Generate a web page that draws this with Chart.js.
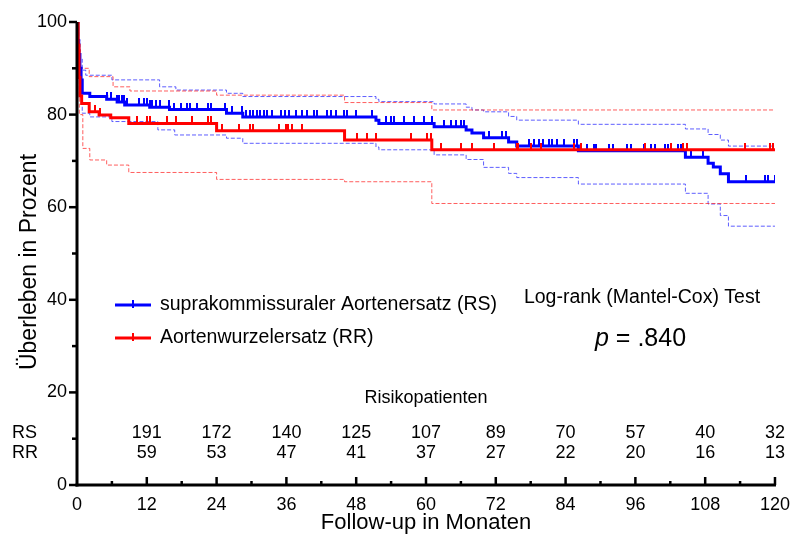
<!DOCTYPE html>
<html>
<head>
<meta charset="utf-8">
<script src="https://cdn.jsdelivr.net/npm/chart.js@4.4.1/dist/chart.umd.min.js"></script>
<style>
html,body{margin:0;padding:0;background:#fff;}
#wrap{width:799px;height:541px;position:relative;}
</style>
</head>
<body>
<div id="wrap"><canvas id="c" width="799" height="541"></canvas></div>
<script>
// ---------- DATA ----------
const xTickStep = 12;
const yTickStep = 20;

// RS (suprakommissuraler Aortenersatz) Kaplan-Meier steps
const rsTimes = [0, 0.15, 0.3, 0.5, 0.7, 0.9, 2.2, 5.1, 6.9, 8.2, 12.5, 15.9, 25.7, 28.5, 51.4, 51.9, 61.4, 66.9, 67.9, 69.9, 74.2, 75.6, 86.2, 104.6, 108.5, 109.4, 110.6, 112.0, 120];
const rsSurv  = [100, 96, 93, 90, 87.5, 84.6, 83.9, 83.3, 82.7, 82.1, 81.6, 81.1, 80.3, 79.5, 78.8, 78.1, 77.4, 76.7, 76.0, 75.0, 74.1, 73.2, 72.2, 70.8, 69.5, 68.7, 67.2, 65.5, 65.5];
// RS 95% confidence limits
const rsUpperTimes = [0, 0.2, 0.5, 0.9, 1.5, 6.0, 14.2, 17.0, 25.7, 28.5, 51.4, 51.9, 61.4, 66.9, 67.9, 69.9, 74.2, 75.6, 86.2, 104.6, 108.5, 110.6, 112.0, 120];
const rsUpper      = [100, 96, 92, 89.6, 88.5, 87.5, 86.0, 85.3, 84.6, 83.9, 83.3, 82.8, 82.3, 81.6, 81.0, 80.6, 79.6, 78.8, 77.9, 76.9, 75.7, 74.5, 73.2, 73.2];
const rsLowerTimes = [0, 0.2, 0.5, 0.9, 2.2, 6.0, 13.9, 16.8, 25.7, 28.5, 51.4, 51.9, 61.4, 66.9, 69.9, 74.2, 75.6, 86.2, 104.6, 108.5, 110.6, 112.0, 120];
const rsLower      = [100, 90, 84, 80.3, 79.5, 78.5, 76.7, 75.6, 74.9, 73.8, 73.0, 72.4, 71.3, 70.3, 68.6, 67.3, 66.4, 65.0, 63.0, 60.7, 58.2, 55.9, 55.9];
// RS censored times
const rsCensored = [5.1, 5.8, 6.9, 7.2, 7.7, 8.1, 8.6, 10.6, 11.5, 12.0, 12.5, 12.9, 13.5, 14.2, 15.8, 16.6, 17.8, 18.9, 19.4, 20.7, 22.5, 23.1, 25.4, 26.7, 28.3, 29.1, 29.7, 30.2, 30.9, 31.4, 32.1, 32.7, 33.6, 35.1, 35.7, 36.5, 37.7, 38.7, 39.6, 40.8, 41.3, 43.0, 43.7, 44.6, 45.9, 46.5, 48.0, 50.7, 53.1, 54.0, 54.5, 56.2, 57.9, 59.7, 61.0, 63.1, 64.3, 65.1, 66.0, 66.5, 70.8, 73.0, 73.7, 77.7, 78.5, 79.4, 80.2, 81.1, 81.6, 82.5, 83.7, 85.4, 85.9, 87.6, 88.8, 89.3, 91.4, 92.2, 94.5, 95.3, 97.4, 98.6, 99.4, 101.1, 101.6, 102.2, 103.4, 103.9, 105.5, 107.7, 115.1, 118.3, 118.8, 120];

// RR (Aortenwurzelersatz) Kaplan-Meier steps
const rrTimes = [0, 0.2, 0.35, 0.5, 0.8, 2.1, 3.8, 5.8, 8.9, 24.0, 46.0, 61.0, 120];
const rrSurv  = [100, 95, 88, 84, 82.4, 80.6, 79.9, 79.3, 78.1, 76.5, 74.5, 72.4, 72.4];
const rrUpperTimes = [0, 0.3, 0.6, 2.1, 6.2, 9.1, 24.0, 46.0, 61.0, 120];
const rrUpper      = [100, 94, 90, 88.2, 86.0, 85.1, 84.2, 82.6, 81.0, 81.0];
const rrLowerTimes = [0, 0.2, 0.4, 1.0, 2.2, 5.1, 8.9, 24.0, 46.0, 61.0, 120];
const rrLower      = [100, 90, 80, 72.7, 70.2, 69.1, 67.5, 66.0, 65.5, 60.8, 60.8];
const rrCensored = [3.1, 3.9, 10.3, 12.0, 12.5, 15.4, 17.1, 19.7, 22.5, 23.1, 24.9, 27.9, 29.7, 30.2, 34.8, 36.0, 36.2, 37.0, 38.7, 48.2, 49.9, 51.4, 57.4, 60.2, 60.9, 62.6, 66.0, 67.9, 71.7, 75.6, 75.9, 78.0, 79.7, 85.5, 86.7, 97.7, 102.2, 104.2, 104.9, 114.9, 119.1, 119.7];

// Patients at risk
const riskMonths = [12, 24, 36, 48, 60, 72, 84, 96, 108, 120];
const rsAtRisk = [191, 172, 140, 125, 107, 89, 70, 57, 40, 32];
const rrAtRisk = [59, 53, 47, 41, 37, 27, 22, 20, 16, 13];

const seriesLabels = ['suprakommissuraler Aortenersatz (RS)', 'Aortenwurzelersatz (RR)'];
const rowLabels = ['RS', 'RR'];

// ---------- HELPERS ----------
const BLUE = '#0000ff', RED = '#ff0000';
const FONT = "'Liberation Sans', Arial, Helvetica, sans-serif";
Chart.defaults.font.family = FONT;
Chart.defaults.color = '#000';

function pts(times, vals){ return times.map((t,i)=>({x:t, y:vals[i]})); }
function survAt(times, vals, t){
  let v = vals[0];
  for (let i=0;i<times.length;i++){ if (times[i] <= t) v = vals[i]; else break; }
  return v;
}
function censorPts(cens, times, vals){ return cens.map(t=>({x:t, y:survAt(times, vals, t)})); }
function tickImage(color){
  const c = document.createElement('canvas');
  c.width = 2; c.height = 14;
  const g = c.getContext('2d');
  g.fillStyle = color; g.fillRect(0,0,2,7);
  return c;
}

const lineDs = (label, data, color, width, dash, order) => ({
  label, data, showLine:true, stepped:true, borderColor:color, backgroundColor:color,
  borderWidth:width, borderDash:dash, pointRadius:0, fill:false, order
});
const tickDs = (label, data, color, order) => ({
  label, data, showLine:false, pointStyle:tickImage(color), pointRadius:3,
  borderColor:color, backgroundColor:color, order
});

// ---------- ANNOTATION PLUGIN ----------
const decor = {
  id:'decor',
  afterDraw(chart){
    const ctx = chart.ctx, xs = chart.scales.x, ys = chart.scales.y;
    const L = xs.left, R = xs.right, T = ys.top, B = ys.bottom;
    ctx.save();
    ctx.strokeStyle = '#000'; ctx.lineCap = 'butt';
    // axes
    ctx.lineWidth = 3;
    ctx.beginPath(); ctx.moveTo(L, T); ctx.lineTo(L, B+1.5); ctx.stroke();
    ctx.beginPath(); ctx.moveTo(L-1.5, B); ctx.lineTo(R+1, B); ctx.stroke();
    // y ticks (outward)
    ctx.lineWidth = 2.5;
    for (let v = 0; v <= ys.max; v += yTickStep/2){
      const py = ys.getPixelForValue(v);
      const len = (v % yTickStep === 0) ? 8 : 5;
      ctx.beginPath(); ctx.moveTo(L-len, py); ctx.lineTo(L, py); ctx.stroke();
    }
    // x ticks (inward)
    for (let m = xTickStep/2; m <= xs.max; m += xTickStep/2){
      const px = xs.getPixelForValue(m);
      const len = (m % xTickStep === 0) ? 8 : 4;
      ctx.beginPath(); ctx.moveTo(px, B); ctx.lineTo(px, B-len); ctx.stroke();
    }
    // axis titles
    ctx.fillStyle = '#000';
    ctx.textAlign = 'center'; ctx.textBaseline = 'middle';
    ctx.font = '22px ' + FONT;
    ctx.fillText('Follow-up in Monaten', (L+R)/2, 523);
    ctx.save();
    ctx.translate(30, 262); ctx.rotate(-Math.PI/2);
    ctx.font = '23px ' + FONT;
    ctx.fillText('Überleben in Prozent', 0, 0);
    ctx.restore();
    // legend
    const legY = [305, 338], cols = [BLUE, RED];
    for (let i=0;i<2;i++){
      ctx.strokeStyle = cols[i]; ctx.lineWidth = 3;
      ctx.beginPath(); ctx.moveTo(115, legY[i]); ctx.lineTo(151, legY[i]); ctx.stroke();
      ctx.lineWidth = 2;
      ctx.beginPath(); ctx.moveTo(133, legY[i]-5); ctx.lineTo(133, legY[i]+3); ctx.stroke();
      ctx.fillStyle = '#000'; ctx.textAlign = 'left';
      ctx.font = '19.5px ' + FONT;
      ctx.fillText(seriesLabels[i], 160, legY[i]);
    }
    // log-rank test
    ctx.textAlign = 'center';
    ctx.font = '19.5px ' + FONT;
    ctx.fillText('Log-rank (Mantel-Cox) Test', 642, 298);
    ctx.textAlign = 'left';
    ctx.font = 'italic 25px ' + FONT;
    const pw = ctx.measureText('p').width;
    ctx.fillText('p', 595, 339);
    ctx.font = '25px ' + FONT;
    ctx.fillText(' = .840', 595 + pw, 339);
    // at-risk table
    ctx.textAlign = 'center';
    ctx.font = '18px ' + FONT;
    ctx.fillText('Risikopatienten', (L+R)/2, 398);
    ctx.textAlign = 'left';
    ctx.fillText(rowLabels[0], 12, 433);
    ctx.fillText(rowLabels[1], 12, 453);
    ctx.textAlign = 'center';
    riskMonths.forEach((m,i)=>{
      const px = xs.getPixelForValue(m);
      ctx.fillText(String(rsAtRisk[i]), px, 433);
      ctx.fillText(String(rrAtRisk[i]), px, 453);
    });
    ctx.restore();
  }
};

new Chart(document.getElementById('c'), {
  type:'scatter',
  data:{ datasets:[
    tickDs('RR zensiert', censorPts(rrCensored, rrTimes, rrSurv), RED, 0),
    lineDs('RR', pts(rrTimes, rrSurv), RED, 3, [], 1),
    tickDs('RS zensiert', censorPts(rsCensored, rsTimes, rsSurv), BLUE, 2),
    lineDs('RS', pts(rsTimes, rsSurv), BLUE, 3, [], 3),
    lineDs('RR oben', pts(rrUpperTimes, rrUpper), 'rgba(255,40,40,0.75)', 1, [4,2], 4),
    lineDs('RR unten', pts(rrLowerTimes, rrLower), 'rgba(255,40,40,0.75)', 1, [4,2], 5),
    lineDs('RS oben', pts(rsUpperTimes, rsUpper), 'rgba(40,40,255,0.75)', 1, [4,2], 6),
    lineDs('RS unten', pts(rsLowerTimes, rsLower), 'rgba(40,40,255,0.75)', 1, [4,2], 7)
  ]},
  options:{
    responsive:false, animation:false, events:[],
    devicePixelRatio:1,
    layout:{ padding:{ top:22, right:22, left:0, bottom:0 } },
    plugins:{ legend:{display:false}, tooltip:{enabled:false} },
    scales:{
      x:{ type:'linear', min:0, max:120,
        ticks:{ stepSize:xTickStep, font:{size:18}, color:'#000', padding:9, maxRotation:0 },
        grid:{ display:true, drawOnChartArea:false, drawTicks:false, color:'rgba(0,0,0,0)' },
        border:{ display:false },
        afterFit(s){ s.height = 56; } },
      y:{ type:'linear', min:0, max:100,
        ticks:{ stepSize:yTickStep, font:{size:18}, color:'#000', padding:10 },
        grid:{ display:true, drawOnChartArea:false, drawTicks:false, color:'rgba(0,0,0,0)' },
        border:{ display:false },
        afterFit(s){ s.width = 77; } }
    }
  },
  plugins:[decor]
});
</script>
</body>
</html>
